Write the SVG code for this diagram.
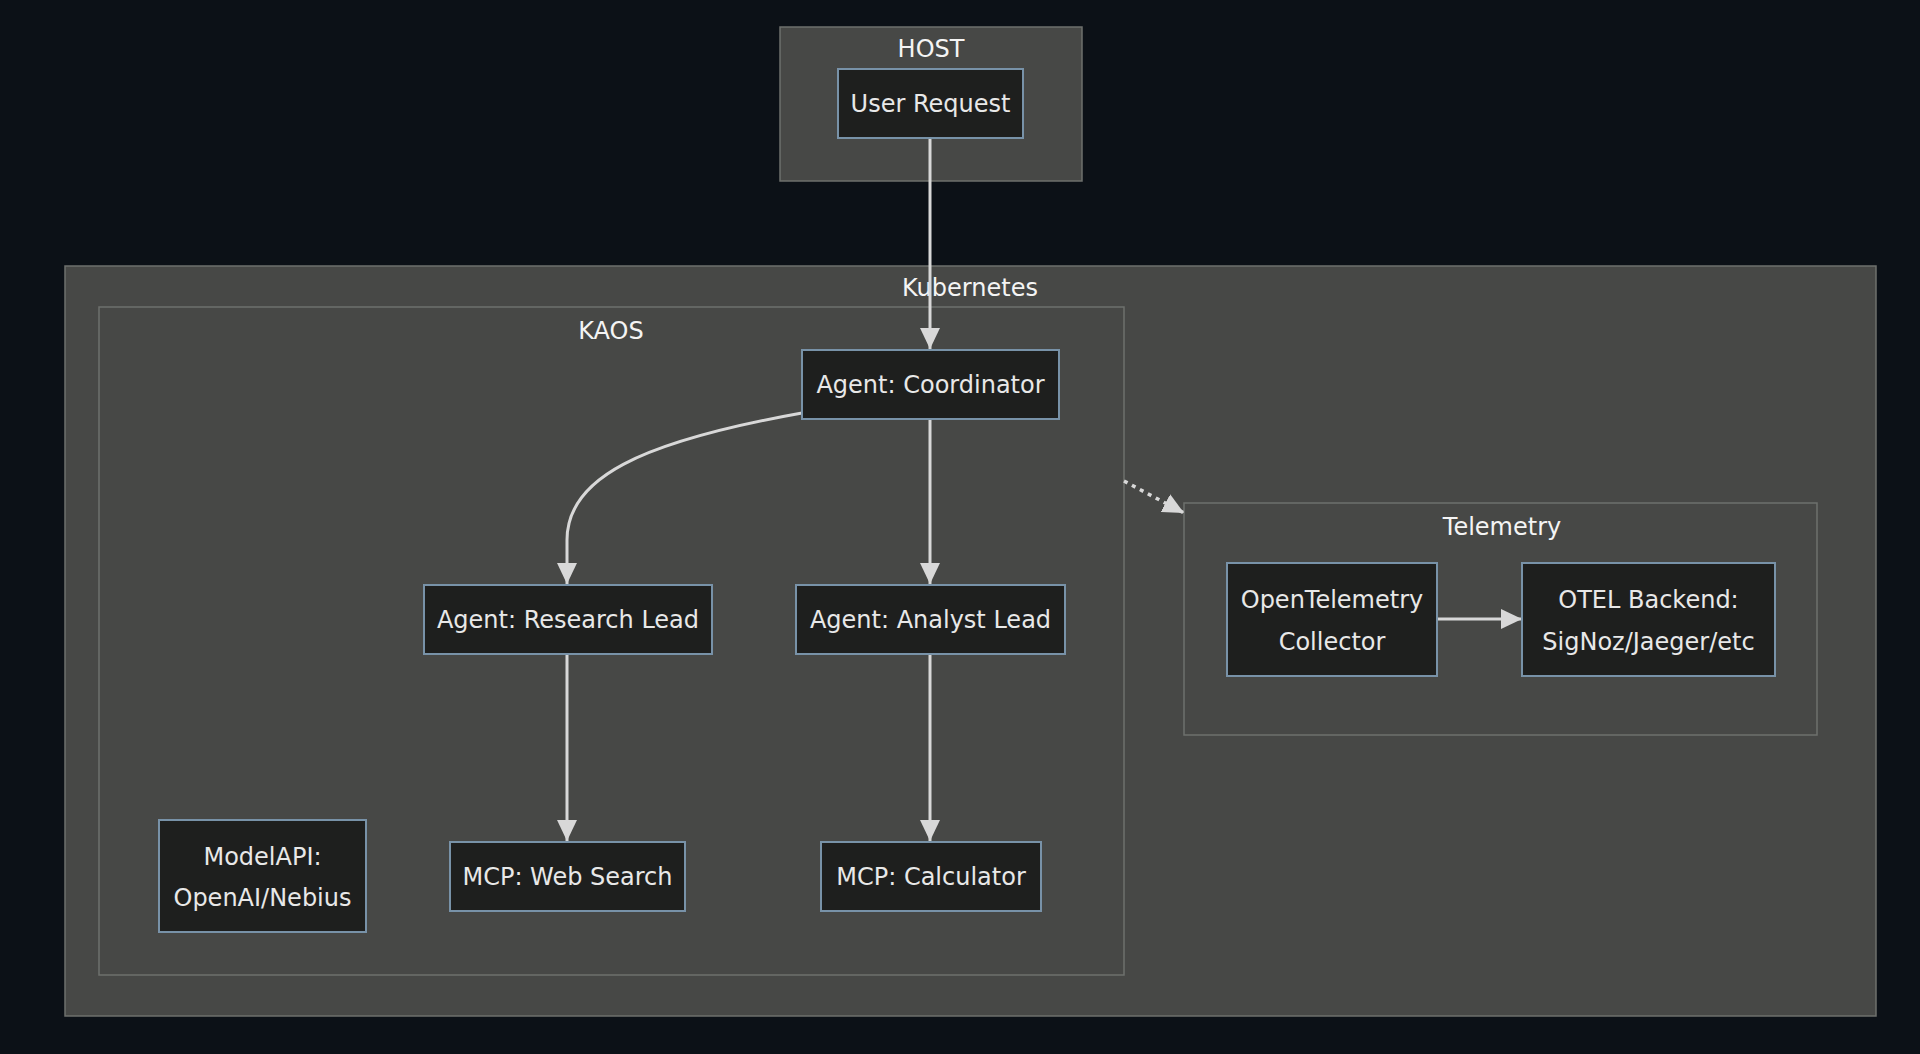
<svg xmlns="http://www.w3.org/2000/svg" width="1920" height="1054" viewBox="0 0 1920 1054">
<style>
.cluster{fill:#474846;stroke:#6e706d;stroke-width:1.5}
.node rect{fill:#1e1f1e;stroke:#7892a8;stroke-width:2}
text{font-family:"DejaVu Sans","Open Sans",sans-serif;font-size:24px;fill:#e8e8e8;text-anchor:middle}
.clabel{fill:#f4f4f4;font-size:24px}
.edge{fill:none;stroke:#d8d8d8;stroke-width:3}
.dotted{stroke-dasharray:4 5;stroke-width:3.5}
</style>
<defs>
<marker id="tri" viewBox="0 0 20 20" refX="20" refY="10" markerWidth="21" markerHeight="21" markerUnits="userSpaceOnUse" orient="auto">
<path d="M0,0.5 L20,10 L0,19.5 z" fill="#d8d8d8"/>
</marker>
</defs>
<rect x="0" y="0" width="1920" height="1054" fill="#0c1117"/>

<g id="cluster-host">
<rect class="cluster" x="780" y="27" width="302" height="154"/>
<text class="clabel" x="931" y="57">HOST</text>
</g>
<g id="cluster-kubernetes">
<rect class="cluster" x="65" y="266" width="1811" height="750"/>
<text class="clabel" x="970" y="296">Kubernetes</text>
</g>
<g id="cluster-kaos">
<rect class="cluster" x="99" y="307" width="1025" height="668"/>
<text class="clabel" x="611" y="339">KAOS</text>
</g>
<g id="cluster-telemetry">
<rect class="cluster" x="1184" y="503" width="633" height="232"/>
<text class="clabel" x="1502" y="535">Telemetry</text>
</g>

<g id="connectors">
<path class="edge" d="M930,138 L930,349" marker-end="url(#tri)"/>
<path class="edge" d="M802,413 C640,442 567,478 567,540 L567,584" marker-end="url(#tri)"/>
<path class="edge" d="M930,419 L930,584" marker-end="url(#tri)"/>
<path class="edge" d="M567,654 L567,841" marker-end="url(#tri)"/>
<path class="edge" d="M930,654 L930,841" marker-end="url(#tri)"/>
<path class="edge dotted" d="M1124,481 L1184,513" marker-end="url(#tri)"/>
<path class="edge" d="M1437,619 L1522,619" marker-end="url(#tri)"/>
</g>

<g id="node-user-request" class="node">
<rect x="838" y="69" width="185" height="69"/>
<text x="930.5" y="112">User Request</text>
</g>
<g id="node-coordinator" class="node">
<rect x="802" y="350" width="257" height="69"/>
<text x="930.5" y="393">Agent: Coordinator</text>
</g>
<g id="node-research-lead" class="node">
<rect x="424" y="585" width="288" height="69"/>
<text x="568" y="628">Agent: Research Lead</text>
</g>
<g id="node-analyst-lead" class="node">
<rect x="796" y="585" width="269" height="69"/>
<text x="930.5" y="628">Agent: Analyst Lead</text>
</g>
<g id="node-modelapi" class="node">
<rect x="159" y="820" width="207" height="112"/>
<text x="262.5" y="865">ModelAPI:</text>
<text x="262.5" y="906">OpenAI/Nebius</text>
</g>
<g id="node-web-search" class="node">
<rect x="450" y="842" width="235" height="69"/>
<text x="567.5" y="885">MCP: Web Search</text>
</g>
<g id="node-calculator" class="node">
<rect x="821" y="842" width="220" height="69"/>
<text x="931" y="885">MCP: Calculator</text>
</g>
<g id="node-otel-collector" class="node">
<rect x="1227" y="563" width="210" height="113"/>
<text x="1332" y="608">OpenTelemetry</text>
<text x="1332" y="650">Collector</text>
</g>
<g id="node-otel-backend" class="node">
<rect x="1522" y="563" width="253" height="113"/>
<text x="1648.5" y="608">OTEL Backend:</text>
<text x="1648.5" y="650">SigNoz/Jaeger/etc</text>
</g>
</svg>
